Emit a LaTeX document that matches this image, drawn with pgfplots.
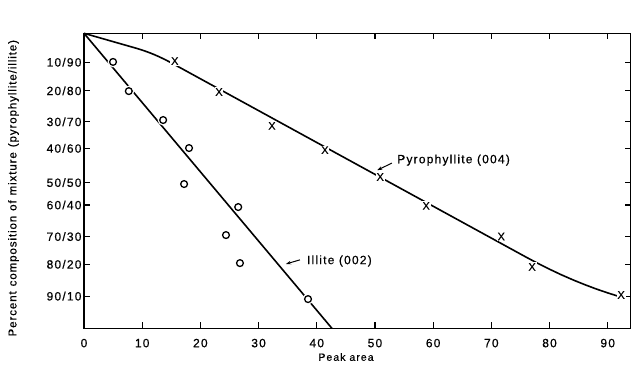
\documentclass[border=0pt]{standalone}
\usepackage{fontspec}
\setmainfont{Liberation Sans}
\newfontfamily\lab[LetterSpace=10,FakeBold=0.6]{Liberation Sans}
\newfontfamily\ylab[LetterSpace=8,WordSpace=1.2,FakeBold=0.6]{Liberation Sans}
\newfontfamily\mk[FakeBold=0.6]{Liberation Sans}
\usepackage{pgfplots}
\usepackage{pgfplotstable}
\pgfplotsset{compat=1.18}
\usetikzlibrary{arrows.meta}

\pgfplotstableread{
x y
4.99 9.7
7.7 19.6
13.6 29.4
18.05 38.9
17.2 51.1
26.5 58.9
24.4 68.4
26.8 77.9
38.5 90.1
}\illitepts

\pgfplotstableread{
x y
15.6 9.4
23.2 19.9
32.3 31.4
41.4 39.6
50.9 48.7
58.8 58.5
71.7 68.9
77.0 79.2
92.3 88.7
}\pyropts

\pgfplotstableread{
x y
0 0
9 5.08
10 5.69
11 6.38
12 7.16
13 8.03
14 8.98
15 10.01
76 75.9
78 78.0
80 79.97
82 81.83
84 83.56
86 85.16
88 86.65
90 88.0
91.6 89.0
}\pyrocurve

\pgfplotstableread{
x y
0 0
42.6 100
}\illiteline

\begin{document}
\begin{tikzpicture}
\begin{axis}[
  scale only axis, width=547pt, height=295pt,
  xmin=0, xmax=94, ymin=0, ymax=100, y dir=reverse,
  xtick={0,10,...,90},
  xticklabels={0,10,20,30,40,50,60,70,80,90},
  ytick={9.8,19.5,30.0,39.0,50.6,58.2,68.9,78.3,89.1},
  yticklabels={10/90,20/80,30/70,40/60,50/50,60/40,70/30,80/20,90/10},
  tick align=inside, major tick length=6pt,
  tick style={line width=1.1pt, black},
  axis line style={line width=1.5pt},
  ticklabel style={font=\lab\fontsize{12}{12}\selectfont},
  yticklabel style={xshift=1pt},
  xticklabel style={yshift=-7pt},
  /pgf/number format/assume math mode=true,
  clip=false,
  xlabel={Peak area},
  xlabel style={at={(axis description cs:0.479,-0.0973)}, anchor=center, font=\lab\fontsize{10.5}{10.5}\selectfont},
  ylabel={Percent composition of mixture (pyrophyllite/illite)},
  ylabel style={at={(axis description cs:-0.1289,0.475)}, anchor=center, font=\ylab\fontsize{11.5}{11.5}\selectfont},
]
\addplot[black, line width=1.6pt] table {\illiteline};
\addplot[black, line width=1.6pt] table {\pyrocurve};
\addplot[only marks, mark=*, mark size=5.2pt, white] table {\illitepts};
\addplot[only marks, mark=o, mark size=3.4pt, black, mark options={line width=1.3pt, fill=white}] table {\illitepts};
\addplot[only marks, mark=text, text mark={X}, text mark as node=true, text mark style={font=\mk\fontsize{11}{11}\selectfont, fill=white, inner sep=0.8pt}] table {\pyropts};
\node[anchor=west, font=\lab\fontsize{12}{12}\selectfont, inner sep=0pt] at (axis cs:53.8,43.0) {Pyrophyllite (004)};
\draw[-{Stealth[length=5pt,width=3.5pt]}, line width=1pt] (axis cs:52.9,44.0) -- (axis cs:50.4,46.4);
\node[anchor=west, font=\lab\fontsize{12}{12}\selectfont, inner sep=0pt] at (axis cs:38.3,77.2) {Illite (002)};
\draw[-{Stealth[length=5pt,width=3.5pt]}, line width=1pt] (axis cs:37.1,76.8) -- (axis cs:34.7,78.2);
\end{axis}
\pgfresetboundingbox
\path (current axis.south west) ++(-84pt,-35.7pt) rectangle ([yshift=33.3pt]current axis.north east);
\end{tikzpicture}
\end{document}
